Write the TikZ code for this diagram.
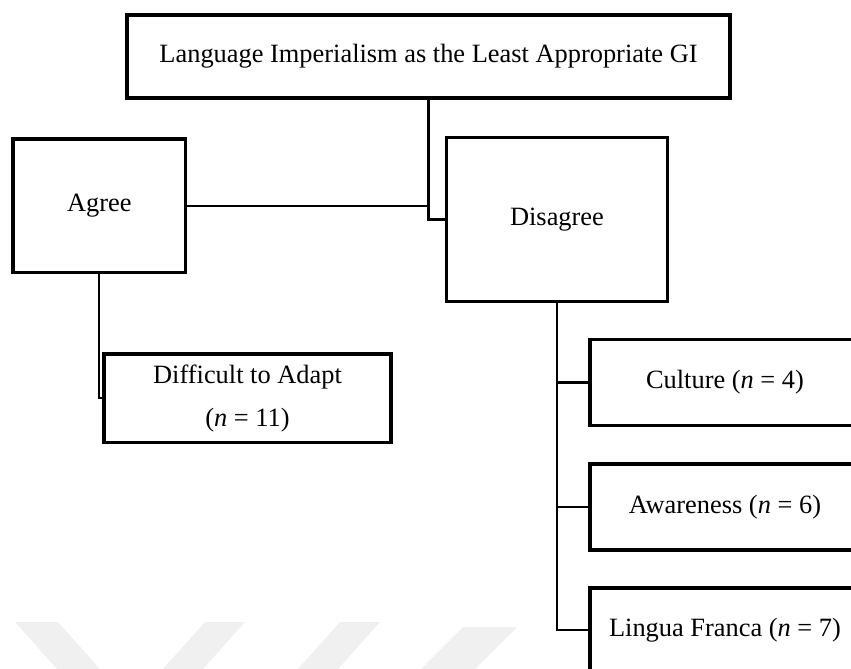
\documentclass[tikz,border=0pt]{standalone}
\usepackage{fontspec}
\setmainfont{Liberation Serif}
\begin{document}
\begin{tikzpicture}[x=1pt,y=-1pt,
  box/.style={draw=black, line width=3.3pt, fill=white, rectangle, inner sep=0pt,
    font=\fontsize{26.4}{43}\selectfont, align=center},
  conn/.style={draw=black, line width=2.2pt},
  wmark/.style={fill=black!6, draw=none}]
\useasboundingbox (0,0) rectangle (851,669);
\clip (0,0) rectangle (851,669);
% faint watermark
\fill[wmark] (15,622) -- (58,622) -- (100,669) -- (57,669) -- cycle;
\fill[wmark] (205,622) -- (245,622) -- (203,669) -- (163,669) -- cycle;
\fill[wmark] (340,622) -- (380,622) -- (338,669) -- (298,669) -- cycle;
\fill[wmark] (463,627) -- (517,627) -- (475,669) -- (421,669) -- cycle;
% nodes
\node[box, minimum width=603pt, minimum height=83pt] (top) at (428.5,56.5)
  {Language Imperialism as the Least Appropriate GI};
\node[box, minimum width=172.5pt, minimum height=133.5pt] (agree) at (99.25,205.75) {Agree};
\node[box, minimum width=221pt, minimum height=164pt] (dis) at (557,219.5) {Disagree};
\node[box, minimum width=287pt, minimum height=88.5pt] (diff) at (247.5,398.25)
  {Difficult to Adapt\\(\textit{n} = 11)};
\node[box, minimum width=270pt, minimum height=86pt] (cult) at (725,382.5) {Culture (\textit{n} = 4)};
\node[box, minimum width=270pt, minimum height=86pt] (aware) at (725,507) {Awareness (\textit{n} = 6)};
\node[box, minimum width=270pt, minimum height=84pt] (ling) at (725,630) {Lingua Franca (\textit{n} = 7)};
% connectors
\draw[conn] (top.south) |- (dis.west);
\draw[conn] (agree.east) -- (agree.east -| top.south);
\draw[conn] (agree.south) |- (diff.west);
\draw[conn] (dis.south) |- (cult.west);
\draw[conn] (dis.south) |- (aware.west);
\draw[conn] (dis.south) |- (ling.west);
\end{tikzpicture}
\end{document}
